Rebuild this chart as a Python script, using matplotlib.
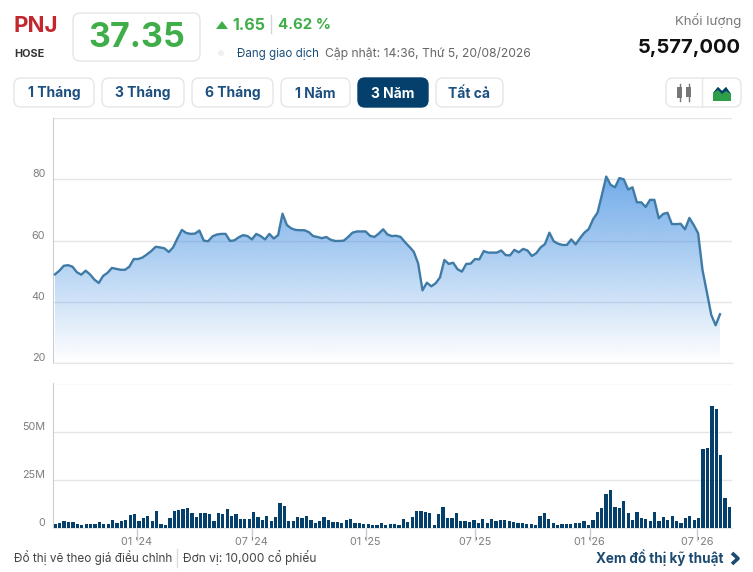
import numpy as np
import matplotlib
matplotlib.use('Agg')
import matplotlib.pyplot as plt
from matplotlib.patches import FancyBboxPatch, Polygon, Rectangle

plt.rcParams['font.family'] = ['Inter', 'DejaVu Sans']

# weekly close
price = [49.0,50.2,51.8,52.0,51.5,49.7,48.9,50.2,49.0,47.3,46.2,48.5,49.5,51.1,50.8,50.5,50.5,51.5,54.0,54.0,
         54.5,55.5,56.6,58.0,57.8,57.5,56.3,57.8,60.8,63.5,62.5,62.2,62.3,63.3,60.0,59.8,61.4,62.0,62.2,62.2,
         59.9,60.1,61.1,61.8,61.5,60.4,62.2,61.5,60.4,62.2,60.7,61.8,68.8,65.1,64.0,63.5,63.4,63.4,62.8,61.5,
         61.2,60.8,61.2,60.3,59.9,59.9,60.0,61.2,62.6,63.0,63.0,63.0,61.6,61.2,62.3,63.7,62.0,61.5,61.6,61.2,
         59.5,58.0,56.4,52.6,43.8,46.3,45.1,46.1,48.0,53.7,52.4,52.8,50.7,49.9,52.4,52.5,54.0,53.9,56.6,56.1,
         56.1,56.1,56.8,55.3,55.2,57.0,56.2,57.3,56.8,55.0,55.9,57.8,58.9,62.6,59.8,59.0,58.6,58.6,60.4,58.8,
         60.8,62.6,63.8,67.0,69.1,74.9,80.9,78.2,77.4,80.4,80.0,76.7,77.4,72.5,72.5,71.0,73.3,73.3,67.3,68.7,
         69.1,65.4,65.4,65.5,63.7,67.4,65.1,62.4,50.4,43.2,35.8,32.4,36.0]

# weekly volume, millions
volume = [1.9,2.3,3.3,3.0,2.8,1.9,1.4,1.7,1.7,1.9,2.8,1.9,1.9,3.8,2.1,3.5,4.0,6.6,7.1,3.3,4.9,6.1,3.5,8.7,1.9,
          1.2,5.0,8.5,9.2,9.5,10.1,7.6,5.6,7.5,7.5,7.1,3.6,7.5,6.8,9.5,6.2,7.1,4.3,4.3,4.2,8.2,5.7,3.8,6.1,3.3,
          5.6,12.7,11.3,3.3,3.5,5.4,5.2,6.1,4.0,2.6,3.6,5.4,4.0,2.8,3.0,2.3,4.0,4.3,2.4,2.1,1.9,1.9,1.2,1.2,
          2.3,1.4,1.9,1.9,1.4,4.5,3.0,5.6,8.5,8.7,8.2,7.6,1.4,7.1,10.8,4.7,5.0,7.6,3.6,3.6,3.0,4.0,2.4,4.5,2.3,
          4.5,3.5,4.0,4.0,3.6,3.0,2.4,2.4,1.7,1.9,1.2,6.1,7.6,4.5,2.3,1.4,1.9,1.9,1.9,2.4,2.4,3.5,1.4,4.0,8.2,
          10.2,17.4,19.4,10.8,10.2,13.9,7.6,4.0,8.2,5.0,4.5,3.5,8.2,3.5,5.6,4.0,6.1,3.5,2.4,5.0,6.1,4.0,5.0,
          41.0,41.5,63.4,61.8,37.8,15.3,10.8]

month_pos = [18.5, 44.6, 70.4, 95.2, 121.3, 145.7]
month_labels = ["01 '24", "07 '24", "01 '25", "07 '25", "01 '26", "07 '26"]
price_ticks = [20, 40, 60, 80, 100]
price_labels = ['20', '40', '60', '80', '']
vol_ticks = [0, 25, 50, 75]
vol_labels = ['0', '25M', '50M', '']
buttons = [('1 Tháng', 14, 94), ('3 Tháng', 102, 184), ('6 Tháng', 192, 273),
           ('1 Năm', 281, 350), ('3 Năm', 358, 428), ('Tất cả', 436, 503)]

W, H = 753, 572
NAVY = '#053f6c'
GREEN = '#3fae49'
GRID = '#e3e5e8'
AXC = '#c9ced6'
TICK = '#7d7d7d'

fig = plt.figure(figsize=(W / 100, H / 100), dpi=100)


def pane(l, t, r, b):
    return fig.add_axes([l / W, 1 - b / H, (r - l) / W, (b - t) / H])


def style(ax):
    for s in ['top', 'right']:
        ax.spines[s].set_visible(False)
    ax.spines['left'].set_color(AXC)
    ax.spines['bottom'].set_color(GRID)
    ax.grid(axis='y', color=GRID, lw=1)
    ax.set_axisbelow(True)


# price pane
ax = pane(53, 118, 732, 363.3)
style(ax)
x = np.arange(len(price))
step = (720 - 55) / (len(price) - 1)
xlim = (-2 / step, len(price) - 1 + 12 / step)
grad = np.zeros((256, 1, 4))
grad[:, 0, :3] = matplotlib.colors.to_rgb('#3a8ae0')
grad[:, 0, 3] = np.linspace(0.72, 0.0, 256)
img = ax.imshow(grad, extent=(x[0], x[-1], 20, max(price)), aspect='auto', origin='upper', zorder=2)
poly = Polygon(np.column_stack([np.r_[x, x[-1], x[0]], np.r_[price, 20, 20]]), closed=True,
               transform=ax.transData, fc='none', ec='none')
ax.add_patch(poly)
img.set_clip_path(poly)
ax.plot(x, price, color='#3f7ba6', lw=1.7, zorder=3, solid_joinstyle='round')
ax.set_xlim(*xlim)
ax.set_ylim(20, 100)
ax.set_xticks([])
ax.set_yticks(price_ticks)
ax.set_yticklabels(price_labels, color=TICK, fontsize=7.8, va='bottom')
ax.tick_params(axis='y', length=0, pad=5.5)

# volume pane
ax2 = pane(53, 383.5, 732, 527.5)
style(ax2)
vx = np.arange(len(volume))
vstep = (729.5 - 55.3) / (len(volume) - 1)
ax2.bar(vx, volume, width=0.74, color=NAVY, zorder=3)
ax2.set_xlim(-2.3 / vstep, len(volume) - 1 + 2.5 / vstep)
ax2.set_ylim(0, 75)
ax2.set_yticks(vol_ticks)
ax2.set_yticklabels(vol_labels, color=TICK, fontsize=7.8, va='bottom')
ax2.set_xticks(month_pos)
ax2.set_xticklabels(month_labels, color=TICK, fontsize=7.8)
ax2.tick_params(axis='y', length=0, pad=5.5)
ax2.tick_params(axis='x', length=9, width=1, color=AXC, pad=-2)

# page furniture, in pixel coordinates
ui = fig.add_axes([0, 0, 1, 1], zorder=5)
ui.set_xlim(0, W)
ui.set_ylim(H, 0)
ui.axis('off')
ui.patch.set_alpha(0)


def box(l, t, r, b, fc='white', ec='#e4e6ea', rad=7):
    ui.add_patch(FancyBboxPatch((l, t), r - l, b - t, boxstyle=f'round,pad=0,rounding_size={rad}',
                                fc=fc, ec=ec, lw=1))


def label(px, py, s, size, color, weight='normal', ha='left'):
    # baseline placed from the cap height, so accents do not shift the text
    ui.text(px, py + 0.5 * size, s, fontsize=size, color=color, fontweight=weight, ha=ha, va='baseline')


label(14, 24, 'PNJ', 16, '#c1272d', 'bold')
label(14, 53, 'HOSE', 7.8, '#333333', 'bold')
box(73, 13, 200, 61)
label(137, 35, '37.35', 24.5, GREEN, 'bold', 'center')
ui.add_patch(Polygon([(216, 29), (228, 29), (222, 21)], fc=GREEN, ec='none'))
label(232, 24, '1.65', 11.5, GREEN, 'bold')
ui.plot([271, 271], [15, 33], color='#d5d5d5', lw=1)
label(278, 24, '4.62 %', 10.8, GREEN, 'bold')
ui.add_patch(plt.Circle((221, 53), 3, fc='#f0f0f0', ec='none'))
label(237, 52.5, 'Đang giao dịch', 8.3, '#1d4f7c')
label(325, 52.5, 'Cập nhật: 14:36, Thứ 5, 20/08/2026', 8.75, '#666666')
label(741, 20, 'Khối lượng', 9.5, '#777777', ha='right')
label(741, 46, '5,577,000', 14.5, '#111111', 'bold', 'right')

for name, l, r in buttons:
    on = name == '3 Năm'
    box(l, 78, r, 107, fc=NAVY if on else 'white', ec=NAVY if on else '#e4e6ea')
    label((l + r) / 2, 92.5, name, 10, 'white' if on else '#1d5080', 'bold', 'center')

# chart type toggle
box(666, 78, 741, 107)
ui.plot([702, 702], [78, 107], color='#e4e6ea', lw=1)
for cx, top, bot, t2, b2 in [(680, 87, 98, 84, 101), (689, 87, 97, 84, 101)]:
    ui.plot([cx, cx], [t2, b2], color='#777777', lw=1)
    ui.add_patch(Rectangle((cx - 2.5, top), 5, bot - top, fc='#777777', ec='none'))
ui.add_patch(Polygon([(713, 101), (713, 93), (718, 87), (722, 91), (726, 87), (731, 94), (731, 101)],
                     fc='#2e9e4a', ec='none'))
ui.add_patch(Polygon([(713, 93), (718, 87), (722, 91), (726, 87), (731, 94), (726, 91), (722, 94), (718, 90)],
                     fc=NAVY, ec='none'))

label(14, 558, 'Đồ thị vẽ theo giá điều chỉnh', 8.45, '#444444')
ui.plot([177, 177], [549, 567], color='#dddddd', lw=1)
label(183, 558, 'Đơn vị: 10,000 cổ phiếu', 8.6, '#444444')
label(596, 558, 'Xem đồ thị kỹ thuật', 9.7, '#1c4a70', 'bold')
ui.plot([732, 738, 732], [553, 558.5, 564], color='#1c4a70', lw=2.6, solid_capstyle='butt')

fig.savefig('out.png', dpi=100)
